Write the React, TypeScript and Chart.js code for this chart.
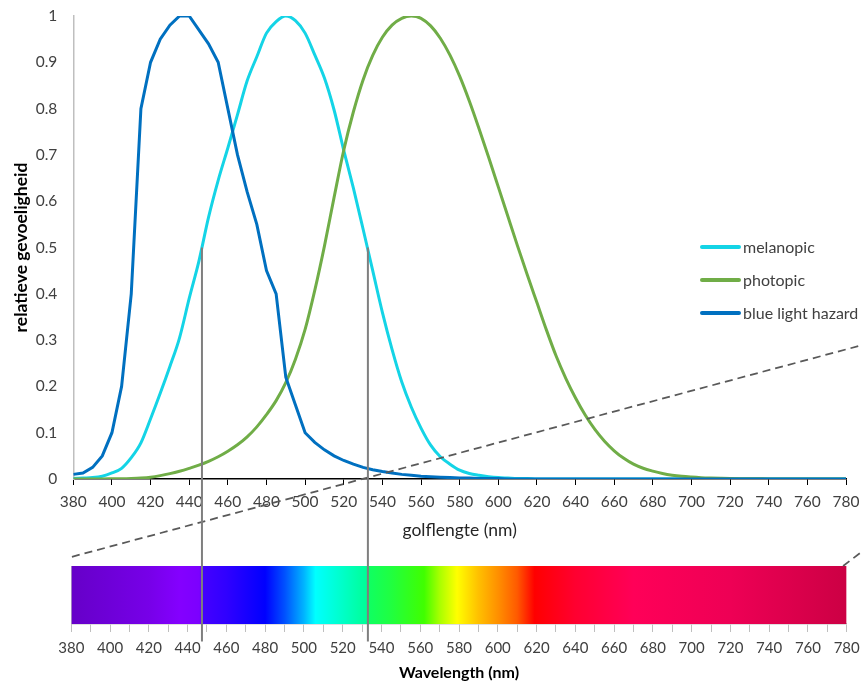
import React, { useEffect, useRef } from 'react';
import { Chart, registerables } from 'chart.js';

Chart.register(...registerables);

// ---------- data ----------
const wavelengths = [
  380, 385, 390, 395, 400, 405, 410, 415, 420, 425, 430, 435, 440, 445, 450, 455, 460, 465, 470, 475,
  480, 485, 490, 495, 500, 505, 510, 515, 520, 525, 530, 535, 540, 545, 550, 555, 560, 565, 570, 575,
  580, 585, 590, 595, 600, 605, 610, 615, 620, 625, 630, 635, 640, 645, 650, 655, 660, 665, 670, 675,
  680, 685, 690, 695, 700, 705, 710, 715, 720, 725, 730, 735, 740, 745, 750, 755, 760, 765, 770, 775, 780,
];

const melanopic = [
  0.001, 0.002, 0.003, 0.006, 0.013, 0.023, 0.046, 0.078, 0.13, 0.185, 0.243, 0.305, 0.39, 0.47, 0.565, 0.645, 0.715, 0.787, 0.86, 0.912,
  0.963, 0.988, 1.0, 0.99, 0.963, 0.916, 0.866, 0.797, 0.71, 0.628, 0.54, 0.45, 0.36, 0.28, 0.21, 0.155, 0.11, 0.073, 0.048, 0.032,
  0.019, 0.012, 0.008, 0.005, 0.003, 0.002, 0.001, 0.001, 0, 0, 0, 0, 0, 0, 0, 0, 0, 0, 0, 0,
  0, 0, 0, 0, 0, 0, 0, 0, 0, 0, 0, 0, 0, 0, 0, 0, 0, 0, 0, 0, 0,
];

const photopic = [
  0.00004, 0.00006, 0.0001, 0.0002, 0.0004, 0.0006, 0.0012, 0.0022, 0.004, 0.0073, 0.0116, 0.0168, 0.023, 0.0298, 0.038, 0.048, 0.06, 0.0739, 0.091, 0.1126,
  0.139, 0.1693, 0.208, 0.2586, 0.323, 0.4073, 0.503, 0.6082, 0.71, 0.7932, 0.862, 0.9149, 0.954, 0.9803, 0.995, 1.0, 0.995, 0.9786, 0.952, 0.9154,
  0.87, 0.8163, 0.757, 0.6949, 0.631, 0.5668, 0.503, 0.4412, 0.381, 0.321, 0.265, 0.217, 0.175, 0.1382, 0.107, 0.0816, 0.061, 0.0446, 0.032, 0.0232,
  0.017, 0.0119, 0.0082, 0.0057, 0.0041, 0.0029, 0.0021, 0.0015, 0.001, 0.0007, 0.0005, 0.0004, 0.0002, 0.0002, 0.0001, 0.0001, 0.0001, 0, 0, 0, 0,
];

const blueLightHazard = [
  0.01, 0.013, 0.025, 0.05, 0.1, 0.2, 0.4, 0.8, 0.9, 0.95, 0.98, 1.0, 1.0, 0.97, 0.94, 0.9, 0.8, 0.7, 0.62, 0.55,
  0.45, 0.4, 0.22, 0.16, 0.1, 0.079, 0.063, 0.05, 0.04, 0.032, 0.025, 0.02, 0.016, 0.013, 0.01, 0.008, 0.006, 0.005, 0.004, 0.003,
  0.002, 0.002, 0.001, 0.001, 0.001, 0, 0, 0, 0, 0, 0, 0, 0, 0, 0, 0, 0, 0, 0, 0,
  0, 0, 0, 0, 0, 0, 0, 0, 0, 0, 0, 0, 0, 0, 0, 0, 0, 0, 0, 0, 0,
];

const seriesNames = ['melanopic', 'photopic', 'blue light hazard'];
const seriesColors = ['#14d4e6', '#70ad47', '#0070c0'];

const yTicks = [0, 0.1, 0.2, 0.3, 0.4, 0.5, 0.6, 0.7, 0.8, 0.9, 1];
const xTicks = [380, 400, 420, 440, 460, 480, 500, 520, 540, 560, 580, 600, 620, 640, 660, 680, 700, 720, 740, 760, 780];
const spectrumTicks = [
  380, 390, 400, 410, 420, 430, 440, 450, 460, 470, 480, 490, 500, 510, 520, 530, 540, 550, 560, 570, 580,
  590, 600, 610, 620, 630, 640, 650, 660, 670, 680, 690, 700, 710, 720, 730, 740, 750, 760, 770, 780,
];

// marker lines (wavelength, relative value)
const markerWavelengths = [446.6, 532.5];
const markerTop = 0.5;
const markerBottom = -0.351;
// dashed "zoom" guides in the data space of the upper chart
const guideA = { x: [379.3, 788.2], y: [-0.168, 0.289] };
const guideB = { x: [778.5, 788.2], y: [-0.188, -0.157] };

// visible spectrum colours
const spectrumStops = [380, 400, 420, 436, 446, 448, 460, 480, 490, 500, 506, 520, 532, 534, 545, 562, 570, 579, 590, 600, 610, 619, 640, 670, 720, 780];
const spectrumColors = [
  '#6600c8', '#6e00d8', '#7700e8', '#8400ff', '#7c00ff', '#4400ff', '#3000ff', '#0000ff', '#0050ff', '#00b4ff', '#00ffff',
  '#00ffc8', '#00ff98', '#10ff60', '#20ff40', '#40ff00', '#a8ff00', '#ffff00', '#ffc000', '#ff9000', '#ff5a00', '#ff0000',
  '#ff0030', '#ff0058', '#ee0055', '#cc0044',
];

const W = 862;
const H = 682;
const FONT = 'Lato, "Open Sans", sans-serif';

function pts(xs: number[], ys: number[]) {
  return xs.map((x, i) => ({ x, y: ys[i] }));
}

function fixXPadding(s: any) {
  s.paddingLeft = 0;
  s.paddingRight = 0;
}

export default function App() {
  const mainRef = useRef<HTMLCanvasElement | null>(null);
  const specRef = useRef<HTMLCanvasElement | null>(null);

  useEffect(() => {
    Chart.defaults.font.family = FONT;

    const seriesValues = [melanopic, photopic, blueLightHazard];
    const curveDatasets = [2, 1, 0].map((i) => ({
      type: 'line' as const,
      label: seriesNames[i],
      data: pts(wavelengths, seriesValues[i]),
      borderColor: seriesColors[i],
      backgroundColor: seriesColors[i],
      borderWidth: 3,
      pointRadius: 0,
      fill: false,
      tension: 0,
      cubicInterpolationMode: i === 2 ? 'default' : 'monotone',
    }));

    const markerDatasets = markerWavelengths.map((w) => ({
      type: 'line' as const,
      label: 'marker',
      data: [
        { x: w, y: markerTop },
        { x: w, y: markerBottom },
      ],
      borderColor: '#7f7f7f',
      borderWidth: 2,
      pointRadius: 0,
      fill: false,
      clip: false as const,
    }));

    const guideDatasets = [guideA, guideB].map((g) => ({
      type: 'line' as const,
      label: 'guide',
      data: pts(g.x, g.y),
      borderColor: '#595959',
      borderWidth: 1.75,
      borderDash: [8, 5],
      pointRadius: 0,
      fill: false,
      clip: false as const,
    }));

    const main = new Chart(mainRef.current as HTMLCanvasElement, {
      type: 'line',
      data: { datasets: [...markerDatasets, ...guideDatasets, ...curveDatasets] as any },
      options: {
        responsive: false,
        animation: false,
        events: [],
        layout: { padding: { left: 0, right: 16, top: 16, bottom: 141.4 } },
        plugins: { legend: { display: false }, tooltip: { enabled: false } },
        scales: {
          x: {
            type: 'linear',
            min: 380,
            max: 780,
            afterBuildTicks: (s: any) => {
              s.ticks = xTicks.map((v) => ({ value: v }));
            },
            afterFit: fixXPadding,
            grid: { drawOnChartArea: false, drawTicks: true, tickLength: 6, color: '#000000', lineWidth: 1 },
            border: { color: '#000000', width: 1.5 },
            ticks: { font: { size: 15.5 }, color: '#404040', padding: 8, maxRotation: 0, autoSkip: false },
            title: {
              display: true,
              text: 'golflengte (nm)',
              font: { size: 17.5 },
              color: '#262626',
              padding: { top: 0, bottom: 0 },
            },
          },
          y: {
            type: 'linear',
            min: 0,
            max: 1,
            afterBuildTicks: (s: any) => {
              s.ticks = yTicks.map((v) => ({ value: v }));
            },
            afterFit: (s: any) => {
              s.width = 73.3;
              s.paddingTop = 0;
              s.paddingBottom = 0;
            },
            grid: { display: false, drawTicks: false },
            border: { color: '#bfbfbf', width: 1.5 },
            ticks: {
              font: { size: 15.5 },
              color: '#404040',
              padding: 16,
              callback: (v: any) => String(Math.round(Number(v) * 10) / 10),
            },
            title: {
              display: true,
              text: 'relatieve gevoeligheid',
              font: { size: 17.5, weight: 'bold' },
              color: '#000000',
              padding: { top: 10.5, bottom: 0 },
            },
          },
        },
      } as any,
    });

    const spec = new Chart(specRef.current as HTMLCanvasElement, {
      type: 'line',
      data: {
        datasets: [
          {
            label: 'spectrum',
            data: [
              { x: spectrumTicks[0], y: 1 },
              { x: spectrumTicks[spectrumTicks.length - 1], y: 1 },
            ],
            borderColor: 'transparent',
            borderWidth: 0,
            pointRadius: 0,
            fill: 'origin',
            backgroundColor: (ctx: any) => {
              const chart = ctx.chart;
              if (!chart.chartArea) return 'transparent';
              const xs = chart.scales.x;
              const x0 = xs.getPixelForValue(380);
              const x1 = xs.getPixelForValue(780);
              const g = chart.ctx.createLinearGradient(x0, 0, x1, 0);
              spectrumStops.forEach((w, i) => g.addColorStop((w - 380) / 400, spectrumColors[i]));
              return g;
            },
          },
        ] as any,
      },
      options: {
        responsive: false,
        animation: false,
        events: [],
        layout: { padding: { left: 71.3, right: 15.3, top: 566, bottom: 0 } },
        plugins: { legend: { display: false }, tooltip: { enabled: false } },
        scales: {
          x: {
            type: 'linear',
            min: 380,
            max: 780,
            afterBuildTicks: (s: any) => {
              s.ticks = spectrumTicks.map((v) => ({ value: v }));
            },
            afterFit: fixXPadding,
            grid: { drawOnChartArea: false, drawTicks: true, tickLength: 8, color: '#bfbfbf', lineWidth: 1 },
            border: { color: '#bfbfbf', width: 1.5 },
            ticks: {
              font: { size: 15 },
              color: '#404040',
              padding: 7,
              maxRotation: 0,
              autoSkip: false,
              callback: (v: any) => (xTicks.includes(Number(v)) ? String(v) : ''),
            },
            title: {
              display: true,
              text: 'Wavelength (nm)',
              font: { size: 16, weight: 'bold' },
              color: '#000000',
              padding: { top: 0, bottom: 0 },
            },
          },
          y: {
            type: 'linear',
            min: 0,
            max: 1,
            afterFit: (s: any) => {
              s.width = 0;
              s.paddingTop = 0;
              s.paddingBottom = 0;
            },
            grid: { display: false, drawTicks: false },
            ticks: { display: false },
            border: { display: true, color: '#bfbfbf', width: 1 },
          },
        },
      } as any,
    });

    return () => {
      main.destroy();
      spec.destroy();
    };
  }, []);

  const legendCenters = [246.7, 280, 312.7];

  return (
    <div style={{ position: 'fixed', left: 0, top: 0, width: W, height: H, background: '#ffffff', overflow: 'hidden' }}>
      <canvas ref={specRef} width={W} height={H} style={{ position: 'absolute', left: 0, top: 0 }} />
      <canvas ref={mainRef} width={W} height={H} style={{ position: 'absolute', left: 0, top: 0 }} />
      {seriesNames.map((name, i) => (
        <div
          key={name}
          style={{
            position: 'absolute',
            left: 700,
            top: legendCenters[i] - 10,
            height: 20,
            display: 'flex',
            alignItems: 'center',
            whiteSpace: 'nowrap',
            fontFamily: FONT,
            fontSize: 16,
            color: '#404040',
          }}
        >
          <span style={{ display: 'inline-block', width: 41, height: 4, borderRadius: 2, background: seriesColors[i] }} />
          <span style={{ marginLeft: 2, lineHeight: '20px' }}>{name}</span>
        </div>
      ))}
    </div>
  );
}
